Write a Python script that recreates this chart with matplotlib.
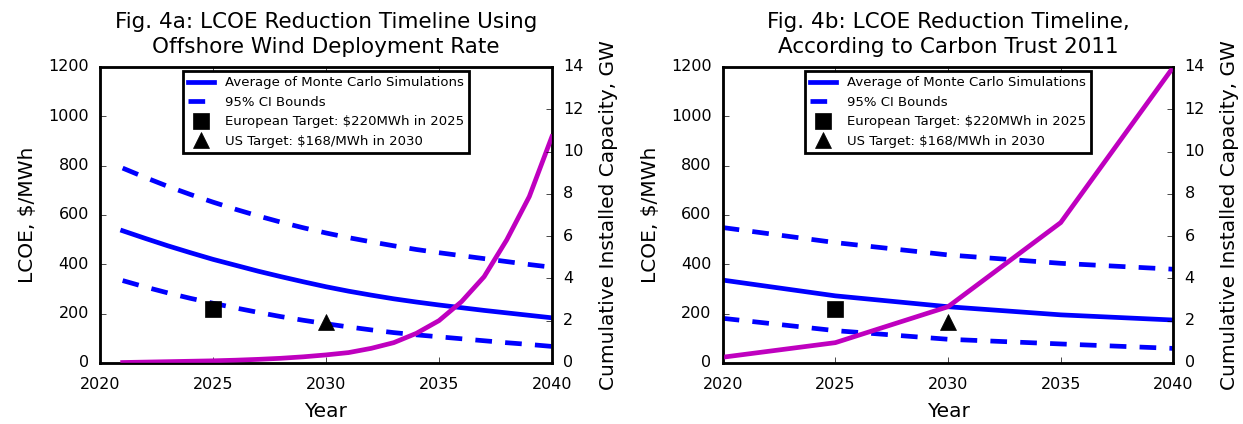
# LCOE reduction timeline, two panels
import matplotlib
matplotlib.use('Agg')
import matplotlib.pyplot as plt

# ---- panel a: yearly points
years_a = [2021, 2022, 2023, 2024, 2025, 2026, 2027, 2028, 2029, 2030,
           2031, 2032, 2033, 2034, 2035, 2036, 2037, 2038, 2039, 2040]
mean_a = [536, 505, 475, 447, 420, 396, 372, 350, 329, 309,
          291, 275, 260, 247, 235, 224, 213, 203, 193, 183]
upper_a = [790, 752, 716, 683, 652, 623, 596, 571, 548, 527,
           508, 491, 475, 460, 447, 435, 423, 411, 399, 388]
lower_a = [334, 308, 284, 262, 242, 223, 205, 188, 173, 159,
           146, 134, 123, 114, 106, 98, 90, 82, 75, 67]
cap_a = [0.02, 0.04, 0.06, 0.08, 0.10, 0.13, 0.17, 0.22, 0.29, 0.38,
         0.49, 0.69, 0.96, 1.40, 2.00, 2.90, 4.08, 5.82, 7.87, 10.7]

# ---- panel b: 5-year points
years_b = [2020, 2025, 2030, 2035, 2040]
mean_b = [336, 272, 228, 195, 174]
upper_b = [549, 488, 438, 404, 380]
lower_b = [181, 131, 96, 77, 59]
cap_b = [0.27, 0.96, 2.66, 6.64, 14.0]

# targets
eu_target = (2025, 220)
us_target = (2030, 168)

titles = ["Fig. 4a: LCOE Reduction Timeline Using\nOffshore Wind Deployment Rate",
          "Fig. 4b: LCOE Reduction Timeline,\nAccording to Carbon Trust 2011"]

plt.style.use('classic')
plt.rcParams['figure.facecolor'] = 'white'
plt.rcParams['savefig.facecolor'] = 'white'
plt.rcParams['axes.formatter.useoffset'] = False

fig = plt.figure(figsize=(12.43, 4.24), dpi=100)
ax1 = fig.add_axes([0.0805, 0.144, 0.3635, 0.698])
ax2 = fig.add_axes([0.5814, 0.144, 0.3626, 0.698])

lw = 3.4
dash = (0, (12, 9.5))
ms = 11.5

panels = [(ax1, years_a, mean_a, upper_a, lower_a, cap_a, titles[0]),
          (ax2, years_b, mean_b, upper_b, lower_b, cap_b, titles[1])]

for ax, yrs, mn, up, lo, cap, ttl in panels:
    ax.plot(yrs, mn, color='b', lw=lw, label='Average of Monte Carlo Simulations')
    ax.plot(yrs, up, color='b', lw=lw, linestyle=dash, label='95% CI Bounds')
    ax.plot(yrs, lo, color='b', lw=lw, linestyle=dash)
    ax.plot([eu_target[0]], [eu_target[1]], 's', color='k', markersize=ms,
            label='European Target: $220MWh in 2025')
    ax.plot([us_target[0]], [us_target[1]], '^', color='k', markersize=ms,
            label='US Target: $168/MWh in 2030')
    ax.set_xlim(2020, 2040)
    ax.set_ylim(0, 1200)
    ax.set_xticks([2020, 2025, 2030, 2035, 2040])
    ax.set_yticks(range(0, 1201, 200))
    ax.tick_params(labelsize=11.5, pad=8)
    ax.tick_params(axis='x', pad=10)
    ax.set_xlabel('Year', fontsize=14.5, labelpad=7)
    ax.set_ylabel('LCOE, \\$/MWh', fontsize=14.5, labelpad=8)
    ax.set_title(ttl, fontsize=15.5, pad=10, linespacing=1.3)
    leg = ax.legend(loc='upper center', fontsize=9.5, numpoints=1,
                    handlelength=2.0, borderaxespad=0.3)
    leg.get_frame().set_linewidth(2)

    axr = ax.twinx()
    axr.plot(yrs, cap, color='m', lw=lw)
    axr.set_ylim(0, 14)
    axr.set_yticks(range(0, 15, 2))
    axr.set_xlim(2020, 2040)
    axr.tick_params(labelsize=11.5, pad=8)
    axr.set_ylabel('Cumulative Installed Capacity, GW', fontsize=14.5,
                   labelpad=11)
    for sp in ax.spines.values():
        sp.set_linewidth(2)

fig.savefig('out.png', dpi=100)
